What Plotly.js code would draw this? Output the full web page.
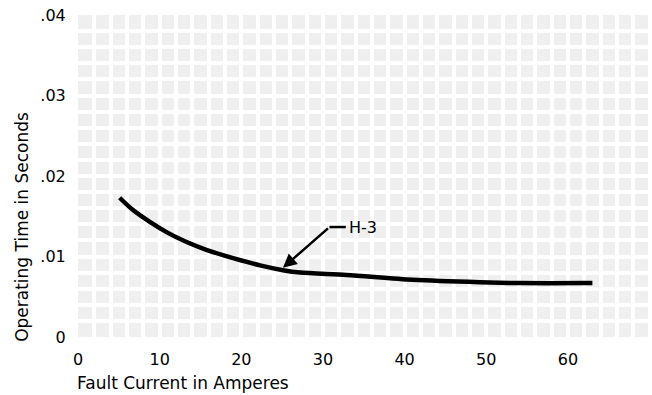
<!DOCTYPE html>
<html>
<head>
<meta charset="utf-8">
<script src="https://cdn.plot.ly/plotly-3.0.1.min.js"></script>
<style>
  html, body { margin: 0; padding: 0; background: #ffffff; }
  #chart { width: 652px; height: 395px; }
</style>
</head>
<body>
<div id="chart"></div>
<script>
// Fault current (A) vs operating time (s), curve H-3
const current = [5.1, 6.7, 8.8, 10.9, 13.3, 15.8, 19.0, 22.3, 25.1, 27.2, 32.9, 41.0, 49.2, 54.1, 61.8, 63.0];
const opTime  = [0.0173, 0.0158, 0.0143, 0.0130, 0.0118, 0.0108, 0.0098, 0.0089, 0.0083, 0.0080, 0.0077, 0.0071, 0.0068, 0.0067, 0.0067, 0.0067];

const xTickVals = [0, 10, 20, 30, 40, 50, 60];
const xTickText = ["0", "10", "20", "30", "40", "50", "60"];
const yTickVals = [0, 0.01, 0.02, 0.03, 0.04];
const yTickText = ["0", ".01", ".02", ".03", ".04"];

const curveLabel = "H-3";
const arrowTip = [25.1, 0.0086];
const arrowTail = [30.8, 0.01366];
const labelPos = [32.9, 0.01366];

const FONT = "DejaVu Sans, Arial, sans-serif";

const trace = {
  x: current,
  y: opTime,
  type: "scatter",
  mode: "lines",
  line: { color: "#000000", width: 4.5, shape: "spline", smoothing: 0.8 },
  hoverinfo: "skip",
  showlegend: false
};

const layout = {
  width: 652,
  height: 395,
  margin: { l: 78, r: 0, t: 15, b: 58, pad: 0 },
  paper_bgcolor: "#ffffff",
  plot_bgcolor: "#efefef",
  font: { family: FONT, size: 16, color: "#000000" },
  xaxis: {
    range: [0, 70.3],
    tickvals: xTickVals,
    ticktext: xTickText,
    ticks: "outside",
    ticklen: 8,
    tickcolor: "rgba(0,0,0,0)",
    showline: false,
    zeroline: false,
    showgrid: true,
    gridcolor: "#ffffff",
    gridwidth: 4,
    minor: { dtick: 2, showgrid: true, gridcolor: "#ffffff", gridwidth: 4, ticks: "" },
    tickfont: { family: FONT, size: 16, color: "#000000" },
    fixedrange: true
  },
  yaxis: {
    range: [0, 0.04],
    tickvals: yTickVals,
    ticktext: yTickText,
    ticks: "outside",
    ticklen: 8,
    tickcolor: "rgba(0,0,0,0)",
    showline: false,
    zeroline: false,
    showgrid: true,
    gridcolor: "#ffffff",
    gridwidth: 4,
    minor: { dtick: 0.002, showgrid: true, gridcolor: "#ffffff", gridwidth: 4, ticks: "" },
    tickfont: { family: FONT, size: 16, color: "#000000" },
    fixedrange: true
  },
  shapes: [
    {
      type: "line", xref: "x", yref: "y",
      x0: arrowTail[0], y0: arrowTail[1], x1: labelPos[0] - 0.1, y1: labelPos[1],
      line: { color: "#000000", width: 2.5 }
    }
  ],
  annotations: [
    {
      x: arrowTip[0], y: arrowTip[1], xref: "x", yref: "y",
      ax: arrowTail[0], ay: arrowTail[1], axref: "x", ayref: "y",
      text: "", showarrow: true,
      arrowhead: 2, arrowsize: 1.1, arrowwidth: 2.5, arrowcolor: "#000000"
    },
    {
      x: labelPos[0], y: labelPos[1], xref: "x", yref: "y",
      text: curveLabel, showarrow: false, xanchor: "left", yanchor: "middle",
      font: { family: FONT, size: 16, color: "#000000" }
    },
    {
      xref: "paper", yref: "paper", x: -0.0976, y: 0.342,
      text: "Operating Time in Seconds", textangle: -90, showarrow: false,
      xanchor: "center", yanchor: "middle",
      font: { family: FONT, size: 17, color: "#000000" }
    },
    {
      xref: "paper", yref: "paper", x: -0.006, y: -0.143,
      text: "Fault Current in Amperes", showarrow: false,
      xanchor: "left", yanchor: "middle",
      font: { family: FONT, size: 17, color: "#000000" }
    }
  ]
};

Plotly.newPlot("chart", [trace], layout, { displayModeBar: false, staticPlot: true });
</script>
</body>
</html>
